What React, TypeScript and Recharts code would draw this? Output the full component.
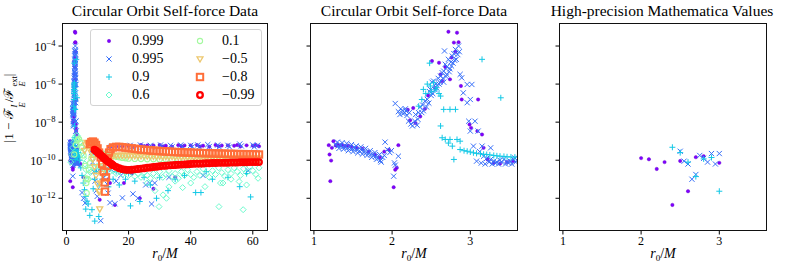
import React from "react";
import { ScatterChart, Scatter, XAxis, YAxis } from "recharts";

// Fractional flux error |1 - F_E^I / F_E^ext| for circular orbits, by spin a.
// y values are stored as log10 of the error; the axis labels them 10^n.
type P = [number, number];

const FONT = '"Liberation Serif", "DejaVu Serif", serif';

const spins = ["0.999", "0.995", "0.9", "0.6", "0.1", "\u22120.5", "\u22120.8", "\u22120.99"];
const xTicksWide = [0, 20, 40, 60];
const xTicksNear = [1, 2, 3];
const yTicks = [-12, -10, -8, -6, -4];

// a = 0.999
const a999: P[] = [
  [1.19, -9.21], [1.2, -9.7], [1.22, -10.02], [1.21, -11.1], [1.25, -9.0], [1.23, -9.35], [1.28, -9.23],
  [1.3, -9.18], [1.33, -9.22], [1.36, -9.2], [1.4, -9.25], [1.44, -9.24], [1.48, -9.28], [1.55, -9.35],
  [1.62, -9.4], [1.7, -9.55], [1.78, -9.7], [1.84, -9.85], [1.9, -9.55], [1.96, -9.45], [2.02, -11.42],
  [2.06, -10.4], [2.04, -10.5], [2.08, -9.21], [2.2, -7.35], [2.27, -7.26], [2.23, -7.9], [2.3, -8.05],
  [2.36, -7.7], [2.42, -7.3], [2.46, -6.6], [2.51, -4.79], [2.55, -6.2], [2.6, -4.88], [2.62, -5.49],
  [2.64, -5.84], [2.68, -5.1], [2.72, -3.25], [2.74, -5.75], [2.76, -4.6], [2.79, -3.82], [2.81, -4.3],
  [2.83, -3.3], [2.85, -3.8], [2.88, -6.1], [2.89, -6.81], [2.99, -8.12], [3.01, -8.3], [3.09, -8.47],
  [3.1, -6.81], [3.15, -8.65], [3.17, -9.35], [3.22, -9.96], [3.3, -10.14], [3.38, -10.18], [3.47, -10.1],
  [3.55, -10.05],
  [4.5, -10.2], [5.5, -10.9], [10.7, -12.08], [13.5, -11.0], [14, -11.2], [15.6, -12.35], [18.5, -11.2],
  [21, -10.7], [23.6, -12.0], [28, -11.5], [35, -10.9],
  [14, -9.3], [16, -9.28], [18, -9.26], [20, -9.24], [22, -9.28], [24, -9.2], [26, -9.23], [28, -9.22],
  [30, -9.2], [32, -9.24], [34, -9.29], [36, -9.21], [38, -9.23], [40, -9.22], [42, -9.2], [44, -9.24],
  [46, -9.29], [48, -9.2], [50, -9.23], [52, -9.22], [54, -9.24], [56, -9.28], [58, -9.22], [60, -9.24],
  [62, -9.27], [25, -9.27], [31, -9.28], [37, -9.27], [43, -9.28], [49, -9.27], [55, -9.2], [61, -9.2],
];

// a = 0.995
const a995: P[] = [
  [1.28, -9.2], [1.31, -9.25], [1.34, -9.22], [1.37, -9.3], [1.4, -9.28], [1.43, -9.35], [1.46, -9.32],
  [1.49, -9.4], [1.52, -9.38], [1.55, -9.45], [1.58, -9.5], [1.61, -9.48], [1.64, -9.55], [1.67, -9.6],
  [1.7, -9.62], [1.73, -9.7], [1.76, -9.75], [1.79, -9.8], [1.82, -9.9], [1.85, -10.02], [1.88, -9.85],
  [1.3, -9.05], [1.36, -9.08], [1.42, -9.12], [1.48, -9.18], [1.54, -9.25], [1.6, -9.3], [1.66, -9.38],
  [1.72, -9.5], [1.78, -9.6], [1.84, -9.7], [1.9, -9.75],
  [1.32, -9.38], [1.38, -9.42], [1.44, -9.5], [1.5, -9.55], [1.56, -9.62], [1.62, -9.68], [1.68, -9.75],
  [1.74, -9.85], [1.8, -9.95], [1.86, -10.1],
  [1.91, -9.05], [1.94, -9.44], [1.97, -9.6], [1.99, -9.5], [2.02, -10.84], [2.03, -10.14], [2.04, -10.26],
  [2.08, -9.79], [2.04, -7.02], [2.08, -7.45], [2.1, -7.6], [2.13, -7.38], [2.16, -7.5], [2.18, -7.42],
  [2.11, -7.3], [2.14, -7.55], [2.17, -7.3], [2.19, -7.65], [2.22, -7.5],
  [2.21, -7.95], [2.24, -8.1], [2.26, -8.2], [2.29, -7.95], [2.32, -8.16], [2.34, -7.5], [2.36, -7.2],
  [2.39, -7.1], [2.42, -6.9], [2.45, -6.8], [2.48, -6.4], [2.49, -6.28], [2.51, -5.9], [2.53, -5.84],
  [2.56, -6.0], [2.59, -5.7], [2.62, -5.58], [2.64, -5.4], [2.66, -5.32], [2.67, -4.26], [2.68, -4.96],
  [2.7, -5.1], [2.72, -4.7], [2.75, -4.85], [2.77, -4.53], [2.79, -4.4], [2.81, -4.18], [2.85, -4.0],
  [2.3, -7.6], [2.38, -7.5], [2.44, -7.2], [2.5, -6.6], [2.55, -6.3], [2.6, -6.0], [2.65, -5.7],
  [2.7, -5.5], [2.74, -5.2], [2.78, -4.9], [2.82, -4.7],
  [2.33, -7.85], [2.4, -7.4], [2.47, -7.0], [2.52, -6.5], [2.57, -6.2], [2.61, -5.9], [2.66, -5.9],
  [2.69, -5.6], [2.73, -5.35], [2.76, -5.05], [2.8, -4.75], [2.84, -4.45], [2.86, -4.3],
  [2.87, -5.49], [2.89, -5.67], [2.91, -6.46], [2.96, -6.02], [2.96, -6.98], [2.98, -7.95], [3.0, -6.81],
  [3.0, -8.47], [3.02, -6.02], [3.04, -9.26], [3.06, -7.95], [3.1, -8.47], [3.12, -9.55], [3.15, -9.26],
  [3.17, -9.79], [3.21, -9.9], [3.26, -9.96], [3.26, -9.35], [3.3, -10.05], [3.34, -10.1], [3.38, -10.0],
  [3.43, -9.96], [3.47, -10.08], [3.51, -10.05], [3.55, -9.95], [3.57, -9.88], [3.6, -10.0],
  [3.08, -10.05], [3.14, -10.15], [3.19, -10.2], [3.24, -10.1], [3.28, -10.2], [3.32, -10.15],
  [3.36, -10.2], [3.4, -10.1], [3.45, -10.2], [3.49, -10.15], [3.53, -10.2], [3.58, -10.1],
  [8, -9.6], [8.4, -10.1], [8.8, -10.6], [9.2, -11.1], [9.6, -11.6], [9.9, -11.9],
  [5.0, -11.7], [5.5, -12.0], [6, -12.25],
  [11, -13.18], [13.1, -11.26], [13.4, -11.73], [14, -12.23], [15.6, -12.29], [18, -11.98], [21.4, -11.77],
  [23, -12.0], [25.5, -11.3], [26.8, -11.2], [27.4, -12.3], [28.4, -11.2], [10, -10.6], [12, -10.9],
  [14.5, -10.5], [16, -11.1], [17.5, -10.8], [19, -10.6], [58.5, -10.55], [33, -10.9], [44, -10.8],
  [14.5, -9.3], [17.3, -9.28], [20.5, -9.22], [21, -9.3], [23.8, -9.2], [24.3, -9.3], [27, -9.22],
  [27.5, -9.3], [30.3, -9.2], [30.8, -9.28], [33.5, -9.22], [34, -9.3], [36.8, -9.2], [37.3, -9.28],
  [40, -9.22], [40.5, -9.3], [42.3, -9.2], [42.8, -9.3], [45.5, -9.18], [46, -9.28], [48.7, -9.2],
  [49.2, -9.3], [52, -9.22], [52.5, -9.3], [55.8, -9.15], [56.3, -9.25], [60, -9.2], [60.5, -9.3],
  [61.5, -9.22],
];

// a = 0.9
const a09: P[] = [
  [2.34, -7.16], [2.38, -6.81], [2.4, -6.28], [2.43, -6.5], [2.45, -6.0], [2.48, -4.9], [2.49, -6.1],
  [2.5, -6.4], [2.53, -5.93], [2.55, -6.3], [2.57, -6.19], [2.6, -6.5], [2.62, -6.63], [2.62, -8.2],
  [2.64, -8.82], [2.66, -7.33], [2.68, -8.91], [2.72, -9.1], [2.74, -7.33], [2.74, -8.91], [2.77, -9.26],
  [2.79, -9.96], [2.81, -7.33], [2.83, -8.91], [2.87, -9.0], [2.87, -9.44], [2.92, -9.5], [2.96, -9.53],
  [3.0, -9.57], [3.04, -9.61], [3.08, -9.64], [3.13, -9.67], [3.15, -4.7], [3.17, -9.69], [3.21, -9.7],
  [3.25, -9.72], [3.3, -9.75], [3.34, -9.77], [3.38, -9.79], [3.39, -6.72], [3.43, -9.8], [3.47, -9.82],
  [3.52, -9.83], [3.57, -9.84],
  [3.8, -9.6], [4.2, -10.0], [4.6, -10.4], [5.0, -10.8], [5.4, -11.2], [5.8, -11.55], [6.2, -11.9],
  [6.6, -12.15], [7.0, -12.3], [6.2, -12.57], [7.5, -12.9], [9.1, -13.2], [10.4, -12.96], [8.2, -12.6],
  [8.6, -11.5], [9.0, -11.0], [9.5, -10.6], [10.5, -11.3], [11, -10.5], [11.5, -11.0], [12.5, -10.7],
  [13.5, -11.4], [14, -10.4], [15, -11.0], [16, -10.6], [17, -11.3], [18, -10.5], [19, -11.0], [20, -10.7],
  [20.6, -12.4], [22, -11.1], [23.6, -12.17], [25, -10.9], [27, -11.3], [29, -12.0], [32.7, -11.6],
  [35, -11.0], [41.6, -11.7], [43.3, -11.7], [47, -11.0], [55.8, -11.39], [59.3, -11.93], [52, -10.9],
  [38, -10.8], [30, -10.9], [45, -10.6], [58, -10.7],
];

// a = 0.6
const a06: P[] = [
  [1.4, -10.1], [1.7, -9.7], [2.0, -9.35], [2.3, -9.05], [2.7, -8.8], [3.1, -8.7], [3.5, -8.72],
  [3.9, -8.85], [4.3, -9.05], [4.7, -9.3], [5.1, -9.6], [5.5, -9.9], [5.9, -10.2], [6.3, -10.5],
  [6.7, -10.8], [7.1, -11.0], [8, -10.6], [9, -10.4], [10, -10.3], [11, -10.35], [12, -10.45],
  [13, -10.5], [14, -10.6], [15, -10.55], [16, -10.7], [17, -10.6], [18, -10.75], [19, -10.65],
  [20, -10.8], [21, -10.6], [22, -10.85], [23, -10.7], [24, -10.9], [25, -10.65], [26, -10.8],
  [27, -10.95], [28, -10.7], [29, -10.85], [30, -10.6], [31, -10.9], [32, -10.75], [33, -10.55],
  [34, -10.85], [35, -10.7], [36, -10.95], [37, -10.6], [38, -10.8], [39, -10.5], [40, -10.75],
  [41, -10.9], [42, -10.6], [43, -10.8], [44, -10.45], [45, -10.7], [46, -10.9], [47, -10.55],
  [48, -10.75], [49, -10.4], [50, -10.65], [51, -10.85], [52, -10.5], [53, -10.7], [54, -10.4],
  [55, -10.6], [56, -10.8], [57, -10.45], [58, -10.65], [59, -10.35], [60, -10.55], [61, -10.75],
  [62, -10.4],
  [29.8, -12.44], [31.1, -11.82], [32.2, -12.0], [37.4, -11.44], [44.6, -11.39], [49.1, -12.44],
  [49.6, -11.2], [50.4, -11.2], [55.6, -11.12], [56.9, -12.6], [61.7, -10.95], [33, -11.4],
  [26, -11.2], [28.5, -11.6], [35, -11.1], [40, -11.2], [53, -11.0], [58, -11.3],
];

// a = 0.1
const a01: P[] = [
  [2.5, -9.7], [3, -9.2], [3.5, -8.95], [4, -8.9], [4.5, -9.05], [5, -9.35], [5.5, -9.75], [6, -10.3],
  [6.3, -10.95], [6.4, -11.2], [6.5, -11.73], [6.8, -11.0], [7.2, -10.5], [7.6, -10.15], [8, -9.9],
  [8.5, -9.72], [9, -9.65], [10, -9.62], [11, -9.63], [12, -9.66], [13, -9.7], [14, -9.74], [15, -9.78],
  [16, -9.82], [17, -9.85], [18, -9.88], [19, -9.9], [20, -9.92], [22, -9.93], [24, -9.94], [26, -9.95],
  [28, -9.95], [30, -9.96], [32, -9.96], [34, -9.97], [36, -9.97], [38, -9.97], [40, -9.98], [42, -9.98],
  [44, -9.98], [46, -9.99], [48, -9.99], [50, -9.99], [52, -10.0], [54, -10.0], [56, -10.0], [58, -10.0],
  [60, -10.01], [62, -10.01],
];

// a = -0.5
const aM05: P[] = [
  [5.8, -9.5], [6.2, -9.2], [6.6, -9.08], [7, -9.1], [7.5, -9.3], [8, -9.6], [8.5, -9.95], [9, -10.35],
  [9.5, -10.8], [10, -11.25], [10.4, -11.65], [10.7, -11.65], [10.7, -12.57], [11, -11.2], [11.3, -10.7],
  [11.7, -10.3], [12.2, -10.05], [13, -9.9], [14, -9.82], [15, -9.78], [16, -9.76], [17, -9.75],
  [18, -9.75], [19, -9.75], [20, -9.76], [21, -9.76], [22, -9.77], [23, -9.77], [24, -9.78], [25, -9.78],
  [26, -9.79], [27, -9.79], [28, -9.8], [29, -9.8], [30, -9.8], [31, -9.81], [32, -9.81], [33, -9.82],
  [34, -9.82], [35, -9.82], [36, -9.83], [37, -9.83], [38, -9.83], [39, -9.84], [40, -9.84], [41, -9.84],
  [42, -9.85], [43, -9.85], [44, -9.85], [45, -9.85], [46, -9.86], [47, -9.86], [48, -9.86], [49, -9.86],
  [50, -9.86], [51, -9.87], [52, -9.87], [53, -9.87], [54, -9.87], [55, -9.87], [56, -9.88], [57, -9.88],
  [58, -9.88], [59, -9.88], [60, -9.88], [61, -9.88], [62, -9.89],
];

// a = -0.8
const aM08: P[] = [
  [7.5, -9.15], [8, -9.05], [8.5, -9.02], [9, -9.08], [9.5, -9.2], [10, -9.38], [10.5, -9.6], [11, -9.85],
  [11.5, -10.2], [12, -10.6], [12.3, -11.17], [12.4, -11.65], [12.7, -10.9], [13, -10.3], [13.3, -9.9],
  [13.7, -9.6], [14.2, -9.42], [15, -9.33], [16, -9.3], [17, -9.3], [18, -9.32], [19, -9.34], [20, -9.36],
  [21, -9.38], [22, -9.4], [23, -9.42], [24, -9.44], [25, -9.45], [26, -9.47], [27, -9.48], [28, -9.5],
  [29, -9.51], [30, -9.52], [31, -9.53], [32, -9.54], [33, -9.55], [34, -9.56], [35, -9.57], [36, -9.58],
  [37, -9.58], [38, -9.59], [39, -9.6], [40, -9.6], [41, -9.61], [42, -9.62], [43, -9.62], [44, -9.63],
  [45, -9.63], [46, -9.64], [47, -9.64], [48, -9.65], [49, -9.65], [50, -9.66], [51, -9.66], [52, -9.67],
  [53, -9.67], [54, -9.67], [55, -9.68], [56, -9.68], [57, -9.68], [58, -9.69], [59, -9.69], [60, -9.69],
  [61, -9.7], [62, -9.7],
];

// a = -0.99
const aM099: P[] = [
  [9, -9.45], [9.5, -9.5], [10, -9.58], [10.5, -9.65], [11, -9.72], [11.5, -9.8], [12, -9.88],
  [12.5, -9.95], [13, -10.02], [13.5, -10.08], [14, -10.14], [14.5, -10.2], [15, -10.26], [16, -10.35],
  [17, -10.42], [18, -10.47], [19, -10.5], [20, -10.51], [21, -10.5], [22, -10.48], [23, -10.46],
  [24, -10.44], [25, -10.42], [26, -10.4], [27, -10.38], [28, -10.36], [29, -10.34], [30, -10.32],
  [31, -10.3], [32, -10.29], [33, -10.27], [34, -10.26], [35, -10.25], [36, -10.24], [37, -10.23],
  [38, -10.22], [39, -10.21], [40, -10.2], [41, -10.19], [42, -10.18], [43, -10.18], [44, -10.17],
  [45, -10.16], [46, -10.16], [47, -10.15], [48, -10.15], [49, -10.14], [50, -10.14], [51, -10.13],
  [52, -10.13], [53, -10.12], [54, -10.12], [55, -10.12], [56, -10.11], [57, -10.11], [58, -10.11],
  [59, -10.1], [60, -10.1], [61, -10.1], [62, -10.1],
];

// High-precision Mathematica values
const m999: P[] = [
  [2.0, -9.89], [2.1, -9.95], [2.2, -10.46], [2.3, -10.1], [2.4, -12.35], [2.5, -10.04], [2.6, -11.63],
  [2.7, -9.84], [2.8, -9.79], [3.0, -10.14],
];
const m995: P[] = [
  [2.5, -9.53], [2.55, -10.05], [2.6, -10.2], [2.65, -11.0], [2.7, -10.75], [2.75, -9.75], [2.8, -9.9],
  [2.85, -10.1], [2.9, -9.65], [2.95, -10.2], [3.0, -9.65],
];
const m09: P[] = [
  [2.4, -9.32], [2.5, -9.6], [2.6, -10.1], [2.7, -10.86], [2.8, -9.93], [2.9, -9.86], [3.0, -11.63],
];

const COLORS = ["#8000ff", "#376ff9", "#12c8e6", "#5bf9c7", "#a4f99f", "#edc76e", "#ff6e39", "#ff0000"];
const KINDS = ["dot", "x", "plus", "diamond", "circle", "tri", "square", "ring"];

const toPts = (a: P[]) => a.map(([x, y]) => ({ x, y }));

function Marker({ kind, color, cx, cy }: { kind: string; color: string; cx: number; cy: number }) {
  switch (kind) {
    case "dot":
      return <circle cx={cx} cy={cy} r={1.7} fill={color} stroke="#6000c8" strokeWidth={0.4} />;
    case "x":
      return (
        <path
          d={`M${cx - 2.6},${cy - 2.6}L${cx + 2.6},${cy + 2.6}M${cx - 2.6},${cy + 2.6}L${cx + 2.6},${cy - 2.6}`}
          stroke={color}
          strokeWidth={1}
          fill="none"
        />
      );
    case "plus":
      return (
        <path
          d={`M${cx - 3},${cy}H${cx + 3}M${cx},${cy - 3}V${cy + 3}`}
          stroke={color}
          strokeWidth={1}
          fill="none"
        />
      );
    case "diamond":
      return (
        <path
          d={`M${cx},${cy - 3}L${cx + 3},${cy}L${cx},${cy + 3}L${cx - 3},${cy}Z`}
          stroke={color}
          strokeWidth={0.9}
          fill="none"
        />
      );
    case "circle":
      return <circle cx={cx} cy={cy} r={2.6} fill="none" stroke={color} strokeWidth={1.1} />;
    case "tri":
      return (
        <path
          d={`M${cx - 3},${cy - 2.2}L${cx + 3},${cy - 2.2}L${cx},${cy + 3}Z`}
          stroke={color}
          strokeWidth={1.3}
          fill="none"
        />
      );
    case "square":
      return <rect x={cx - 3.2} y={cy - 3.2} width={6.4} height={6.4} fill="none" stroke={color} strokeWidth={2} />;
    default:
      return <circle cx={cx} cy={cy} r={2.8} fill="none" stroke={color} strokeWidth={2.3} />;
  }
}

const LogTick = (props: any) => {
  const { x, y, payload } = props;
  return (
    <text x={x - 1} y={y + 4.5} textAnchor="end" fontFamily={FONT} fontSize={12} fill="#000">
      10
      <tspan dy={-5} fontSize={8.5}>
        {"\u2212" + Math.abs(payload.value)}
      </tspan>
    </text>
  );
};
const NoTick = () => <g />;

type Series = { data: P[]; kind: string; color: string };

function Panel({
  left,
  width,
  domain,
  ticks,
  series,
  labels,
}: {
  left: number;
  width: number;
  domain: [number, number];
  ticks: number[];
  series: Series[];
  labels: boolean;
}) {
  return (
    <div style={{ position: "absolute", left, top: 0 }}>
      <ScatterChart width={width} height={273} margin={{ top: 23, right: 2, bottom: 0, left: 0 }}>
        <XAxis
          type="number"
          dataKey="x"
          domain={domain}
          ticks={ticks}
          interval={0}
          allowDataOverflow
          height={42}
          tickSize={3.5}
          stroke="#000"
          axisLine={false}
          tick={{ fill: "#000", fontSize: 12, fontFamily: FONT }}
        />
        <YAxis
          type="number"
          dataKey="y"
          domain={[-13.72, -2.79]}
          ticks={yTicks}
          interval={0}
          allowDataOverflow
          width={62}
          tickSize={3.5}
          stroke="#000"
          axisLine={false}
          tick={labels ? <LogTick /> : <NoTick />}
        />
        {series.map((s, i) => (
          <Scatter
            key={i}
            data={toPts(s.data.filter((p) => p[0] >= domain[0] - 0.05 && p[0] <= domain[1] + 0.05))}
            isAnimationActive={false}
            shape={(p: any) => <Marker kind={s.kind} color={s.color} cx={p.cx} cy={p.cy} />}
          />
        ))}
      </ScatterChart>
      <div
        style={{
          position: "absolute",
          left: 62,
          top: 23,
          width: width - 64,
          height: 208,
          border: "1px solid #111",
          boxSizing: "border-box",
          pointerEvents: "none",
        }}
      />
    </div>
  );
}

const Stack = ({ sup, sub }: { sup: React.ReactNode; sub: React.ReactNode }) => (
  <span
    style={{
      display: "inline-flex",
      flexDirection: "column",
      fontSize: 8.5,
      lineHeight: 1,
      verticalAlign: "-0.45em",
      marginLeft: 1,
    }}
  >
    <span>{sup}</span>
    <span>{sub}</span>
  </span>
);

const XLabel = ({ cx }: { cx: number }) => (
  <div
    style={{
      position: "absolute",
      left: cx,
      top: 246,
      transform: "translateX(-50%)",
      fontFamily: FONT,
      fontSize: 14,
      whiteSpace: "nowrap",
      lineHeight: "16px",
    }}
  >
    <i>r</i>
    <span style={{ fontSize: 9, position: "relative", top: 3 }}>0</span>/<i>M</i>
  </div>
);

const Title = ({ cx, text }: { cx: number; text: string }) => (
  <div
    style={{
      position: "absolute",
      left: cx,
      top: 2,
      transform: "translateX(-50%)",
      fontFamily: FONT,
      fontSize: 15.5,
      whiteSpace: "nowrap",
      lineHeight: "18px",
    }}
  >
    {text}
  </div>
);

export default function App() {
  const all: P[][] = [a999, a995, a09, a06, a01, aM05, aM08, aM099];
  const wide: Series[] = all.map((d, i) => ({ data: d, kind: KINDS[i], color: COLORS[i] }));
  const near: Series[] = wide.slice(0, 3);
  const hp: Series[] = [m999, m995, m09].map((d, i) => ({ data: d, kind: KINDS[i], color: COLORS[i] }));

  return (
    <div
      style={{
        position: "absolute",
        left: 0,
        top: 0,
        width: 789,
        height: 273,
        background: "#fff",
        overflow: "hidden",
      }}
    >
      <Panel left={0} width={270} domain={[-1.45, 64.9]} ticks={xTicksWide} series={wide} labels />
      <Panel left={248} width={272} domain={[0.95, 3.61]} ticks={xTicksNear} series={near} labels={false} />
      <Panel left={497} width={272} domain={[0.95, 3.61]} ticks={xTicksNear} series={hp} labels={false} />

      <Title cx={165} text="Circular Orbit Self-force Data" />
      <Title cx={414} text="Circular Orbit Self-force Data" />
      <Title cx={662} text="High-precision Mathematica Values" />
      <XLabel cx={165} />
      <XLabel cx={414} />
      <XLabel cx={663} />

      <div
        style={{
          position: "absolute",
          left: 14,
          top: 108,
          transform: "translate(-50%, -50%) rotate(-90deg)",
          fontFamily: FONT,
          fontSize: 13,
          whiteSpace: "nowrap",
          lineHeight: 1,
        }}
      >
        |1 {"\u2212"} {"\u2131"}
        <Stack sup={<i>I</i>} sub={<i>E</i>} />/{"\u2131"}
        <Stack sup="ext" sub={<i>E</i>} />|
      </div>

      <div
        style={{
          position: "absolute",
          left: 90,
          top: 29,
          width: 172,
          height: 77,
          border: "1px solid #d3d3d3",
          borderRadius: 3,
          background: "rgba(255,255,255,0.8)",
          boxSizing: "border-box",
          fontFamily: FONT,
          fontSize: 14,
        }}
      >
        {spins.map((s, i) => {
          const col = Math.floor(i / 4);
          const row = i % 4;
          const top = 11 + row * 18;
          return (
            <React.Fragment key={s}>
              <svg
                width={12}
                height={12}
                style={{ position: "absolute", left: (col ? 109 : 18) - 6, top: top - 6 }}
              >
                <Marker kind={KINDS[i]} color={COLORS[i]} cx={6} cy={6} />
              </svg>
              <span
                style={{
                  position: "absolute",
                  left: col ? 131 : 41,
                  top: top - 9,
                  lineHeight: "18px",
                }}
              >
                {s}
              </span>
            </React.Fragment>
          );
        })}
      </div>
    </div>
  );
}
